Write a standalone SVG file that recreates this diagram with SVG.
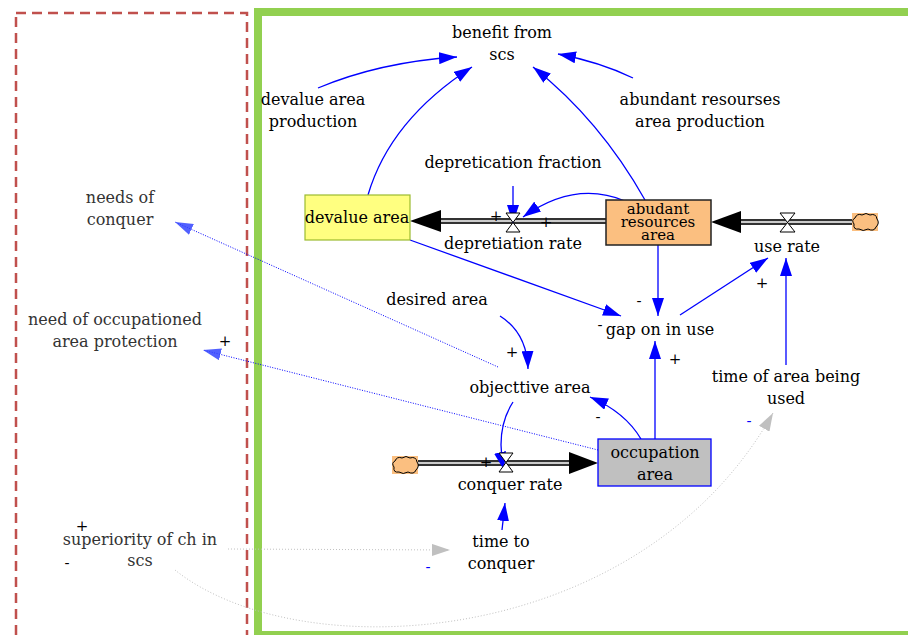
<svg xmlns="http://www.w3.org/2000/svg" width="908" height="635" viewBox="0 0 908 635">
<style>
text{font-family:'DejaVu Serif','Liberation Serif',serif;font-size:16px;fill:#000;text-anchor:middle}
.side{fill:#333}
.pol{font-size:15px}
.bl{fill:#0000ff}
.box3{font-size:15px}
.lk{fill:none;stroke:#0000ff;stroke-width:1.3}
.dot{fill:none;stroke:#0000ff;stroke-width:1;stroke-dasharray:1 1.5}
.gr{fill:none;stroke:#c0c0c0;stroke-width:1;stroke-dasharray:1 2}
.pipeo{stroke:#333;stroke-width:6;fill:none}
.pipei{stroke:#fff;stroke-width:1.6;fill:none}
.valve{fill:#fff;stroke:#000;stroke-width:1}
</style>
<defs>
<marker id="ab" markerUnits="userSpaceOnUse" markerWidth="18" markerHeight="12" refX="18" refY="6" orient="auto"><path d="M0,0 L18,6 L0,12 z" fill="#0000ff"/></marker>
<marker id="ad" markerUnits="userSpaceOnUse" markerWidth="18" markerHeight="12" refX="18" refY="6" orient="auto"><path d="M0,0 L18,6 L0,12 z" fill="#3344ff" opacity="0.85"/></marker>
<marker id="ag" markerUnits="userSpaceOnUse" markerWidth="18" markerHeight="12" refX="18" refY="6" orient="auto"><path d="M0,0 L18,6 L0,12 z" fill="#c0c0c0"/></marker>
<g id="cloudshape">
<rect x="0" y="0" width="26" height="18" fill="#fbbf80"/>
<path d="M3,5 Q5,0 10,2 Q14,-1 18,2 Q24,0 25,6 Q28,10 24,14 Q22,19 16,16 Q11,19 7,16 Q1,17 2,11 Q-1,7 3,5 Z" fill="none" stroke="#000" stroke-width="1"/>
</g>
</defs>
<rect width="908" height="635" fill="#fff"/>
<g id="boundaries">
<rect x="16" y="13" width="231" height="640" fill="none" stroke="#c0504d" stroke-width="2.5" stroke-dasharray="10 6"/>
<rect x="258" y="12" width="700" height="623" fill="none" stroke="#92d050" stroke-width="8"/>
</g>
<g id="pipes">
<path class="pipeo" d="M440,221 L606,221"/><path class="pipei" d="M440,221 L606,221"/>
<path d="M410,221 L441,210 L441,232 z" fill="#000"/>
<path class="pipeo" d="M740,222 L852,222"/><path class="pipei" d="M740,222 L852,222"/>
<path d="M711,222 L741,211 L741,233 z" fill="#000"/>
<path class="pipeo" d="M418,463 L570,463"/><path class="pipei" d="M418,463 L570,463"/>
<path d="M598,463 L569,452 L569,474 z" fill="#000"/>
</g>
<g id="connectors">
<path class="lk" d="M368,195 Q390,120 472,67" marker-end="url(#ab)"/>
<path class="lk" d="M318,88 Q380,62 457,57" marker-end="url(#ab)"/>
<path class="lk" d="M645,200 Q600,120 533,67" marker-end="url(#ab)"/>
<path class="lk" d="M633,78 Q600,62 558,54" marker-end="url(#ab)"/>
<path class="lk" d="M513,186 L513,223" marker-end="url(#ab)"/>
<path class="lk" d="M625,201 Q575,180 523,217" marker-end="url(#ab)"/>
<path class="lk" d="M410,240 L621,316" marker-end="url(#ab)"/>
<path class="lk" d="M658,245 L658,316" marker-end="url(#ab)"/>
<path class="lk" d="M680,315 L768,258" marker-end="url(#ab)"/>
<path class="lk" d="M786,365 L786,258" marker-end="url(#ab)"/>
<path class="lk" d="M655,439 L655,341" marker-end="url(#ab)"/>
<path class="lk" d="M641,439 Q625,412 590,397" marker-end="url(#ab)"/>
<path class="lk" d="M500,316 Q527,333 528,369" marker-end="url(#ab)"/>
<path class="lk" d="M513,402 Q495,430 504,470" marker-end="url(#ab)"/>
<path class="lk" d="M502,530 L505,503" marker-end="url(#ab)"/>
<path class="dot" d="M498,367 L175,222" marker-end="url(#ad)"/>
<path class="dot" d="M598,450 L203,350" marker-end="url(#ad)"/>
<path class="gr" d="M228,549 L450,550" marker-end="url(#ag)"/>
<path class="gr" d="M175,570 C300,670 640,650 773,413" marker-end="url(#ag)"/>
</g>
<g id="benefit"><text x="502" y="38">benefit from</text><text x="502" y="60">scs</text></g>
<g id="devalue-production"><text x="313" y="105">devalue area</text><text x="313" y="127">production</text></g>
<g id="abundant-production"><text x="700" y="105">abundant resourses</text><text x="700" y="127">area production</text></g>
<g id="depretication-fraction"><text x="513" y="168">depretication fraction</text></g>
<g id="devalue-area">
<rect x="305" y="195" width="105" height="45" fill="#ffff80" stroke="#9bbb30" stroke-width="1.2"/>
<text x="357" y="223">devalue area</text>
</g>
<g id="abundant-area">
<rect x="606" y="200" width="105" height="45" fill="#fbbf80" stroke="#222" stroke-width="1.5"/>
<text class="box3" x="658" y="214">abudant</text><text class="box3" x="658" y="227">resources</text><text class="box3" x="658" y="240">area</text>
</g>
<g id="depretiation-rate">
<path class="valve" d="M506,213 L520,213 L506,232 L520,232 z"/>
<text x="513" y="249">depretiation rate</text>
</g>
<g id="use-rate">
<path class="valve" d="M780,213 L795,213 L780,232 L795,232 z"/>
<text x="787" y="252">use rate</text>
</g>
<g id="cloud-right"><use href="#cloudshape" x="852" y="213"/></g>
<g id="cloud-left"><use href="#cloudshape" x="392" y="456"/></g>
<g id="desired-area"><text x="437" y="305">desired area</text></g>
<g id="gap"><text x="660" y="335">gap on in use</text></g>
<g id="objective-area"><text x="530" y="393">objecttive area</text></g>
<g id="time-used"><text x="786" y="382">time of area being</text><text x="786" y="404">used</text></g>
<g id="occupation-area">
<rect x="598" y="439" width="113" height="47" fill="#c0c0c0" stroke="#0000ff" stroke-width="1.3"/>
<text x="655" y="458">occupation</text><text x="655" y="480">area</text>
</g>
<g id="conquer-rate">
<path class="valve" d="M499,453 L513,453 L499,472 L513,472 z"/>
<text x="510" y="490">conquer rate</text>
</g>
<g id="time-conquer"><text x="501" y="547">time to</text><text x="501" y="569">conquer</text></g>
<g id="needs-conquer"><text class="side" x="120" y="203">needs of</text><text class="side" x="120" y="225">conquer</text></g>
<g id="need-protection"><text class="side" x="115" y="325">need of occupationed</text><text class="side" x="115" y="347">area protection</text></g>
<g id="superiority"><text class="side" x="140" y="545">superiority of ch in</text><text class="side" x="140" y="566">scs</text></g>
<g id="polarities">
<text class="pol" x="496" y="221">+</text>
<text class="pol" x="546" y="227">+</text>
<text class="pol" x="639" y="306">-</text>
<text class="pol" x="600" y="330">-</text>
<text class="pol" x="762" y="288">+</text>
<text class="pol" x="675" y="364">+</text>
<text class="pol" x="512" y="357">+</text>
<text class="pol" x="598" y="422">-</text>
<text class="pol bl" x="749" y="426">-</text>
<text class="pol" x="486" y="467">+</text>
<text class="pol bl" x="428" y="572">-</text>
<text class="pol" x="225" y="346">+</text>
<text class="pol" x="82" y="531">+</text>
<text class="pol" x="67" y="568" font-size="8">-</text>
</g>
</svg>
